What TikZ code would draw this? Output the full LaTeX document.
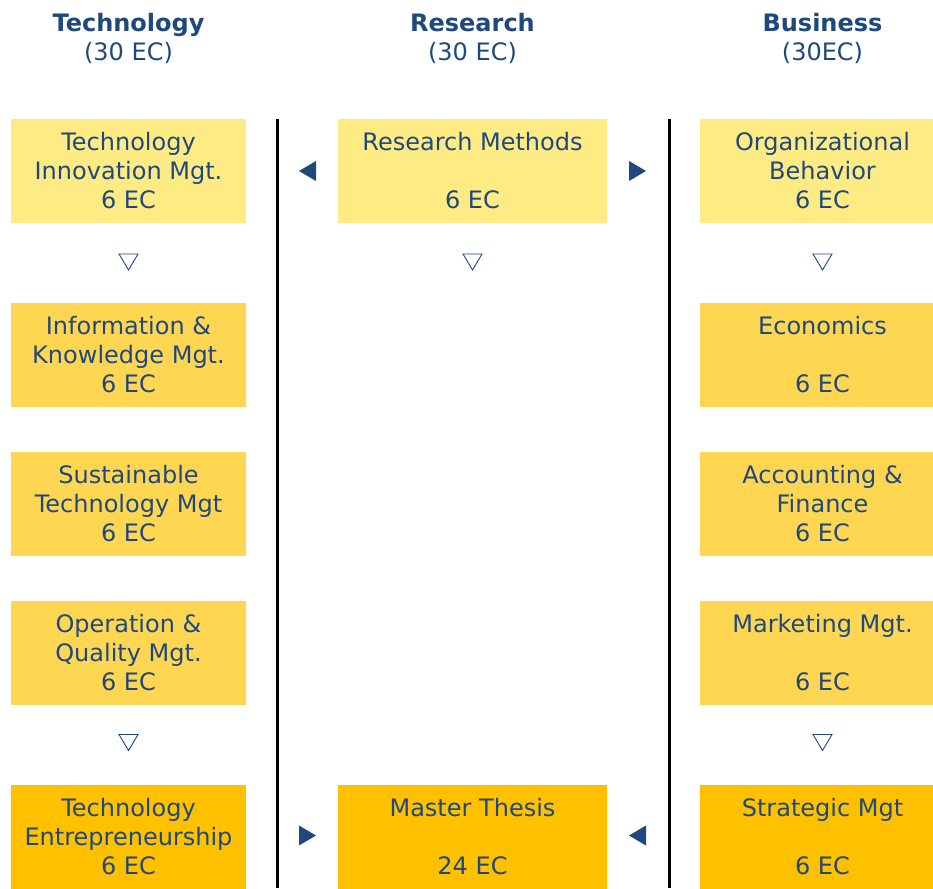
\documentclass[tikz,border=0pt]{standalone}
\usepackage{fontspec}
\setmainfont{DejaVu Sans}
\definecolor{txt}{HTML}{1F497D}
\definecolor{lightY}{HTML}{FFEB84}
\definecolor{midY}{HTML}{FFD652}
\definecolor{darkY}{HTML}{FFC000}
\begin{document}
\begin{tikzpicture}[x=1pt,y=-1pt,
  box/.style={fill=#1, draw=none, inner sep=0pt, text=txt, align=center,
    minimum height=104pt, font=\fontsize{24}{29}\selectfont},
  techbox/.style={box=#1, minimum width=235pt},
  resbox/.style={box=#1, minimum width=269pt},
  busbox/.style={box=#1, minimum width=245pt},
  head/.style={text=txt, align=center, inner sep=0pt, font=\fontsize{24}{29}\selectfont},
  divider/.style={line width=3pt, black},
  downtri/.pic={\draw[txt, line width=0.9pt, line join=miter] (-9.5,-8) -- (9.5,-8) -- (0,8) -- cycle;},
  lefttri/.pic={\fill[txt] (8.5,-10) -- (-8.5,0) -- (8.5,10) -- cycle;},
  righttri/.pic={\fill[txt] (-8.5,-10) -- (8.5,0) -- (-8.5,10) -- cycle;}
]
\clip (0,0) rectangle (933,888);
\fill[white] (0,0) rectangle (933,888);

% headings
\node[head] (htech) at (128.5,38) {\textbf{Technology}\\(30 EC)};
\node[head] (hres) at (472.5,38) {\textbf{Research}\\(30 EC)};
\node[head] (hbus) at (822.5,38) {\textbf{Business}\\(30EC)};

% dividers
\coordinate (d1t) at (277,119); \coordinate (d1b) at (277,888);
\coordinate (d2t) at (669,119); \coordinate (d2b) at (669,888);
\draw[divider] (d1t) -- (d1b);
\draw[divider] (d2t) -- (d2b);

% technology column
\node[techbox=lightY] (t1) at (128.5,171) {Technology\\Innovation Mgt.\\6 EC};
\node[techbox=midY]   (t2) at (128.5,355) {Information \&\\Knowledge Mgt.\\6 EC};
\node[techbox=midY]   (t3) at (128.5,503.5) {Sustainable\\Technology Mgt\\6 EC};
\node[techbox=midY]   (t4) at (128.5,652.5) {Operation \&\\Quality Mgt.\\6 EC};
\node[techbox=darkY]  (t5) at (128.5,836.5) {Technology\\Entrepreneurship\\6 EC};

% research column
\node[resbox=lightY] (r1) at (472.5,171) {Research Methods\\\strut\\6 EC};
\node[resbox=darkY]  (r5) at (472.5,836.5) {Master Thesis\\\strut\\24 EC};

% business column
\node[busbox=lightY] (b1) at (822.5,171) {Organizational\\Behavior\\6 EC};
\node[busbox=midY]   (b2) at (822.5,355) {Economics\\\strut\\6 EC};
\node[busbox=midY]   (b3) at (822.5,503.5) {Accounting \&\\Finance\\6 EC};
\node[busbox=midY]   (b4) at (822.5,652.5) {Marketing Mgt.\\\strut\\6 EC};
\node[busbox=darkY]  (b5) at (822.5,836.5) {Strategic Mgt\\\strut\\6 EC};

% open down triangles
\pic at (128.5,262) {downtri};
\pic at (472.5,262) {downtri};
\pic at (822.5,262) {downtri};
\pic at (128.5,742.5) {downtri};
\pic at (822.5,742.5) {downtri};

% filled side triangles
\pic at (307.5,171) {lefttri};
\pic at (637.5,171) {righttri};
\pic at (307.5,835.5) {righttri};
\pic at (637.5,835.5) {lefttri};
\end{tikzpicture}
\end{document}
